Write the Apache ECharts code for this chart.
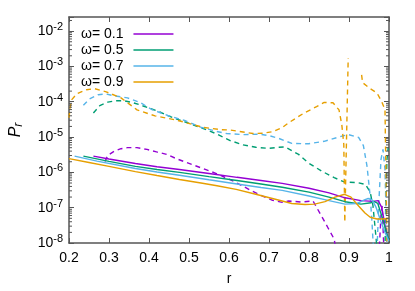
<!DOCTYPE html>
<html>
<head>
<meta charset="utf-8">
<script src="https://cdn.jsdelivr.net/npm/echarts@6/dist/echarts.min.js"></script>
<style>html,body{margin:0;padding:0;background:#fff;}#c{width:415px;height:291px;}</style>
</head>
<body>
<div id="c"></div>
<script>
// ---- data (r values and log10 of Pr) ----
const seriesNames = ['ω= 0.1', 'ω= 0.5', 'ω= 0.7', 'ω= 0.9'];
const seriesColors = ['#9400d3', '#009e73', '#56b4e9', '#e69f00'];

const xTickLabels = ['0.2', '0.3', '0.4', '0.5', '0.6', '0.7', '0.8', '0.9', '1'];
const yTickExponents = [-8, -7, -6, -5, -4, -3, -2];

// solid curves
const solid01R   = [0.261, 0.30, 0.366, 0.42, 0.476, 0.55, 0.62, 0.68, 0.733, 0.80, 0.85, 0.89, 0.93, 0.96, 0.973, 0.982, 0.99, 0.998];
const solid01Log = [-5.54, -5.62, -5.75, -5.84, -5.92, -6.03, -6.14, -6.23, -6.31, -6.45, -6.58, -6.72, -6.80, -6.82, -6.80, -7.0, -7.5, -7.9];

const solid05R   = [0.236, 0.30, 0.366, 0.42, 0.476, 0.55, 0.62, 0.68, 0.733, 0.80, 0.85, 0.89, 0.93, 0.955, 0.962, 0.972, 0.985, 0.995, 1.0];
const solid05Log = [-5.54, -5.69, -5.83, -5.92, -6.0, -6.12, -6.23, -6.33, -6.42, -6.56, -6.70, -6.83, -6.90, -6.86, -6.82, -6.88, -7.35, -7.75, -7.9];

const solid07R   = [0.214, 0.27, 0.366, 0.42, 0.476, 0.55, 0.62, 0.68, 0.733, 0.80, 0.85, 0.89, 0.92, 0.94, 0.948, 0.958, 0.968, 0.98, 0.99, 1.0];
const solid07Log = [-5.54, -5.68, -5.89, -5.99, -6.08, -6.21, -6.33, -6.43, -6.51, -6.67, -6.80, -6.90, -6.88, -6.77, -6.74, -6.78, -7.0, -7.4, -7.7, -7.95];

const solid09R   = [0.2, 0.25, 0.30, 0.366, 0.42, 0.476, 0.53, 0.57, 0.618, 0.667, 0.733, 0.757, 0.79, 0.814, 0.84, 0.865, 0.889, 0.905, 0.924, 0.94, 0.953, 0.97, 0.985, 1.0];
const solid09Log = [-5.61, -5.72, -5.83, -5.98, -6.09, -6.20, -6.30, -6.38, -6.48, -6.62, -6.81, -6.88, -6.91, -6.90, -6.83, -6.70, -6.62, -6.70, -6.95, -7.15, -7.27, -7.32, -7.32, -7.30];

// dashed curves (null = gap)
const dash01R   = [0.290, 0.297, 0.313, 0.330, 0.346, 0.370, 0.395, 0.419, 0.444, 0.468, 0.489, 0.513, 0.537, 0.570, 0.611, 0.635, 0.652, 0.684, 0.709, 0.733, 0.749, 0.782, 0.810, 0.831, 0.847, 0.863, 0.866, 0.92, 0.976, 0.980, 0.983, 0.987];
const dash01Log = [-5.69, -5.52, -5.40, -5.33, -5.30, -5.30, -5.35, -5.42, -5.49, -5.61, -5.70, -5.80, -5.90, -6.04, -6.25, -6.39, -6.50, -6.67, -6.79, -6.85, -6.81, -6.84, -6.81, -7.23, -7.56, -7.89, -8.1, null, -8.1, -7.2, -6.95, -8.1];

const dash05R   = [0.261, 0.277, 0.297, 0.317, 0.337, 0.358, 0.378, 0.403, 0.427, 0.447, 0.464, 0.497, 0.529, 0.569, 0.603, 0.635, 0.667, 0.700, 0.725, 0.740, 0.774, 0.798, 0.831, 0.863, 0.888, 0.921, 0.941, 0.953, 0.960, 0.968, 0.970, 0.98, 0.990, 0.992, 0.995, 0.998];
const dash05Log = [-4.32, -4.11, -4.01, -3.97, -3.97, -4.02, -4.09, -4.19, -4.29, -4.39, -4.47, -4.60, -4.73, -4.91, -5.10, -5.22, -5.29, -5.32, -5.29, -5.28, -5.49, -5.73, -5.96, -6.15, -6.27, -6.29, -6.34, -6.56, -6.95, -7.9, -8.2, null, -8.2, -6.76, -5.63, -5.30];

const dash07R   = [0.236, 0.251, 0.273, 0.293, 0.312, 0.346, 0.378, 0.407, 0.447, 0.489, 0.529, 0.569, 0.594, 0.635, 0.676, 0.700, 0.725, 0.757, 0.799, 0.838, 0.880, 0.899, 0.924, 0.936, 0.945, 0.953, 0.957, 0.960, 0.962, 0.966, 0.970, 0.975, 0.980, 0.985, 0.990, 0.995];
const dash07Log = [-4.10, -3.92, -3.80, -3.78, -3.83, -3.89, -4.02, -4.22, -4.39, -4.53, -4.72, -4.84, -4.90, -4.93, -4.92, -4.96, -5.04, -5.18, -5.19, -5.12, -4.98, -4.93, -5.01, -5.24, -5.82, -6.68, -7.32, -7.94, -8.2, null, -8.2, -6.76, -5.63, -5.35, -5.92, -8.2];

const dash09R   = [0.200, 0.203, 0.207, 0.220, 0.244, 0.264, 0.293, 0.330, 0.370, 0.415, 0.469, 0.537, 0.579, 0.603, 0.643, 0.660, 0.684, 0.709, 0.733, 0.750, 0.789, 0.819, 0.838, 0.860, 0.875, 0.882, 0.887, 0.8895, 0.898, 0.915, 0.9315, 0.934, 0.953, 0.970, 0.982, 0.990, 0.993, 0.995];
const dash09Log = [-4.45, -4.15, -3.94, -3.77, -3.66, -3.63, -3.72, -3.89, -4.23, -4.40, -4.52, -4.73, -4.79, -4.80, -4.87, -4.90, -4.89, -4.85, -4.73, -4.59, -4.31, -4.14, -4.02, -4.03, -4.23, -4.65, -5.21, -7.41, -2.76, null, -3.24, -3.46, -3.63, -3.75, -4.0, -4.23, -6.5, -8.2];

// minor tick multipliers for log axis (2..9 per decade)
const minorMultipliers = [2, 3, 4, 5, 6, 7, 8, 9];

// ---- build ----
function pairs(rs, logs) {
  return rs.map((r, i) => [r, logs[i] === null ? '-' : Math.pow(10, logs[i])]);
}
const solids = [[solid01R, solid01Log], [solid05R, solid05Log], [solid07R, solid07Log], [solid09R, solid09Log]];
const dashes = [[dash01R, dash01Log], [dash05R, dash05Log], [dash07R, dash07Log], [dash09R, dash09Log]];

const yMin = 1e-8, yMax = Math.pow(10, -1.6);
const minorData = [];
for (let e = -8; e <= -2; e++) {
  minorMultipliers.forEach(m => {
    const v = m * Math.pow(10, e);
    if (v < yMax) minorData.push([0.2, v]);
  });
}

const FONT = '"Liberation Sans", Arial, sans-serif';
const AX = '#555';

const series = [];
solids.forEach((s, i) => {
  series.push({
    name: seriesNames[i], type: 'line', data: pairs(s[0], s[1]),
    showSymbol: false, symbol: 'none', connectNulls: false, smooth: false,
    lineStyle: { color: seriesColors[i], width: 1.4 }, itemStyle: { color: seriesColors[i] },
    z: 3
  });
});
dashes.forEach((s, i) => {
  series.push({
    name: seriesNames[i] + ' d', type: 'line', data: pairs(s[0], s[1]),
    showSymbol: false, symbol: 'none', connectNulls: false, smooth: false,
    lineStyle: { color: seriesColors[i], width: 1.4, type: [5, 4] }, itemStyle: { color: seriesColors[i] },
    z: 2
  });
});
series.push({
  name: 'minor', type: 'custom', data: minorData, silent: true, z: 5,
  renderItem: function (params, api) {
    const v = api.value(1);
    const pl = api.coord([0.2, v]);
    const pr = api.coord([1.0, v]);
    return {
      type: 'group',
      children: [
        { type: 'line', shape: { x1: pl[0], y1: pl[1], x2: pl[0] + 3, y2: pl[1] }, style: { stroke: AX, lineWidth: 1 } },
        { type: 'line', shape: { x1: pr[0] - 3, y1: pr[1], x2: pr[0], y2: pr[1] }, style: { stroke: AX, lineWidth: 1 } }
      ]
    };
  },
  clip: false
});

function isPow10(v) {
  const l = Math.log10(v);
  return Math.abs(l - Math.round(l)) < 1e-6;
}

const LEGEND_ICON = 'path://M0,0 H40 V1.5 H0 Z';

const option = {
  backgroundColor: '#fff',
  animation: false,
  textStyle: { fontFamily: FONT },
  grid: { left: 62, right: 26, top: 17, bottom: 47, containLabel: false },
  legend: {
    data: seriesNames.map(n => ({ name: n, icon: LEGEND_ICON })),
    orient: 'vertical',
    left: 76, top: 22,
    align: 'right',
    itemWidth: 40, itemHeight: 14, itemGap: 2,
    textStyle: { fontFamily: FONT, fontSize: 14, color: '#000', padding: [0, 5, 0, 0] }
  },
  xAxis: [{
    type: 'value', min: 0.2, max: 1, interval: 0.1,
    name: 'r', nameLocation: 'middle', nameGap: 29,
    nameTextStyle: { fontFamily: FONT, fontSize: 14, color: '#000' },
    axisLine: { show: true, lineStyle: { color: AX, width: 1.5 } },
    axisTick: { show: true, inside: true, length: 5, lineStyle: { color: AX } },
    splitLine: { show: false },
    axisLabel: {
      fontFamily: FONT, fontSize: 14, color: '#000', margin: 8,
      formatter: function (v) { const i = Math.round((v - 0.2) / 0.1); return xTickLabels[i] !== undefined ? xTickLabels[i] : ''; }
    }
  }, {
    type: 'value', min: 0.2, max: 1, interval: 0.1, position: 'top',
    axisLine: { show: true, lineStyle: { color: AX, width: 1.5 } },
    axisTick: { show: true, inside: true, length: 5, lineStyle: { color: AX } },
    axisLabel: { show: false }, splitLine: { show: false }
  }],
  yAxis: [{
    type: 'log', logBase: 10, min: yMin, max: yMax, interval: 1,
    name: '{p|P}{r|r}', nameLocation: 'middle', nameGap: 44, nameRotate: 90,
    nameTextStyle: {
      rich: {
        p: { fontFamily: FONT, fontStyle: 'italic', fontSize: 16, color: '#000' },
        r: { fontFamily: FONT, fontStyle: 'italic', fontSize: 12, color: '#000', padding: [6, 0, 0, 0] }
      }
    },
    axisLine: { show: true, lineStyle: { color: AX, width: 1.5 } },
    axisTick: { show: true, inside: true, length: 5, lineStyle: { color: AX } },
    splitLine: { show: false },
    minorTick: { show: false },
    axisLabel: {
      margin: 6,
      formatter: function (v) {
        if (!isPow10(v)) return '';
        const e = Math.round(Math.log10(v));
        if (yTickExponents.indexOf(e) < 0) return '';
        return '{b|10}{s|' + e + '}';
      },
      rich: {
        b: { fontFamily: FONT, fontSize: 14, color: '#000' },
        s: { fontFamily: FONT, fontSize: 11, color: '#000', padding: [0, 0, 8, 0] }
      }
    }
  }, {
    type: 'log', logBase: 10, min: yMin, max: yMax, interval: 1, position: 'right',
    axisLine: { show: true, lineStyle: { color: AX, width: 1.5 } },
    axisTick: { show: true, inside: true, length: 5, lineStyle: { color: AX } },
    axisLabel: { show: false }, splitLine: { show: false }
  }],
  series: series
};

const chart = echarts.init(document.getElementById('c'), null, { renderer: 'canvas' });
chart.setOption(option);
</script>
</body>
</html>
